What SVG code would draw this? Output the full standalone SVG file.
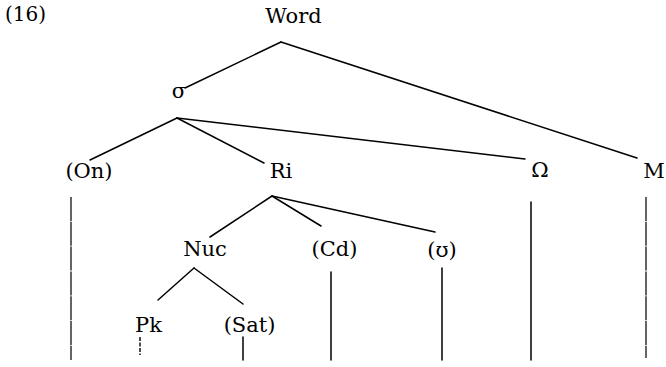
<svg xmlns="http://www.w3.org/2000/svg" width="666" height="367" viewBox="0 0 666 367">
  <style>
    .lbl { font-family: 'DejaVu Serif', serif; font-size: 21px; fill: #000; text-anchor: middle; }
    .num { font-family: 'DejaVu Serif', serif; font-size: 20px; fill: #000; }
    .edge { stroke: #000; stroke-width: 1.5; fill: none; stroke-linecap: round; }
    .rough { stroke: #111; stroke-width: 1.3; fill: none; stroke-dasharray: 24 0.8; }
    .dash { stroke: #000; stroke-width: 1.4; fill: none; stroke-dasharray: 4 1.5; }
  </style>
  <rect width="666" height="367" fill="#fff"/>

  <!-- tree branches and association lines -->
  <g id="connectors">
    <line class="edge" x1="281" y1="42" x2="185" y2="88"/>
    <line class="edge" x1="281" y1="42" x2="637" y2="158"/>
    <line class="edge" x1="177" y1="118" x2="90" y2="160"/>
    <line class="edge" x1="177" y1="118" x2="264" y2="163"/>
    <line class="edge" x1="177" y1="118" x2="525" y2="159"/>
    <line class="edge" x1="272" y1="196" x2="210" y2="237"/>
    <line class="edge" x1="272" y1="196" x2="321" y2="226"/>
    <line class="edge" x1="272" y1="196" x2="435" y2="232"/>
    <line class="edge" x1="194" y1="268" x2="158" y2="300"/>
    <line class="edge" x1="194" y1="268" x2="243" y2="304"/>
    <line class="rough" x1="71" y1="197" x2="71" y2="360"/>
    <line class="dash" x1="140" y1="337" x2="140" y2="355"/>
    <line class="edge" x1="243" y1="337" x2="243" y2="360"/>
    <line class="edge" x1="331" y1="272" x2="331" y2="360"/>
    <line class="edge" x1="442" y1="268" x2="442" y2="360"/>
    <line class="edge" x1="531" y1="202" x2="531" y2="360"/>
    <line class="rough" x1="646" y1="197" x2="646" y2="358"/>
  </g>

  <text class="num" x="5" y="21">(16)</text>
  <g id="word"><text class="lbl" x="293.5" y="23">Word</text></g>
  <g id="sigma"><text class="lbl" x="179" y="98">σ</text></g>
  <g id="onset"><text class="lbl" x="89" y="178">(On)</text></g>
  <g id="rime"><text class="lbl" x="281" y="178">Ri</text></g>
  <g id="omega"><text class="lbl" x="540" y="177">Ω</text></g>
  <g id="m"><text class="lbl" x="654" y="178">M</text></g>
  <g id="nucleus"><text class="lbl" x="205" y="256">Nuc</text></g>
  <g id="coda"><text class="lbl" x="334.5" y="256">(Cd)</text></g>
  <g id="upsilon"><text class="lbl" x="442" y="257">(ʊ)</text></g>
  <g id="peak"><text class="lbl" x="148.5" y="332">Pk</text></g>
  <g id="satellite"><text class="lbl" x="249.5" y="332">(Sat)</text></g>
</svg>
